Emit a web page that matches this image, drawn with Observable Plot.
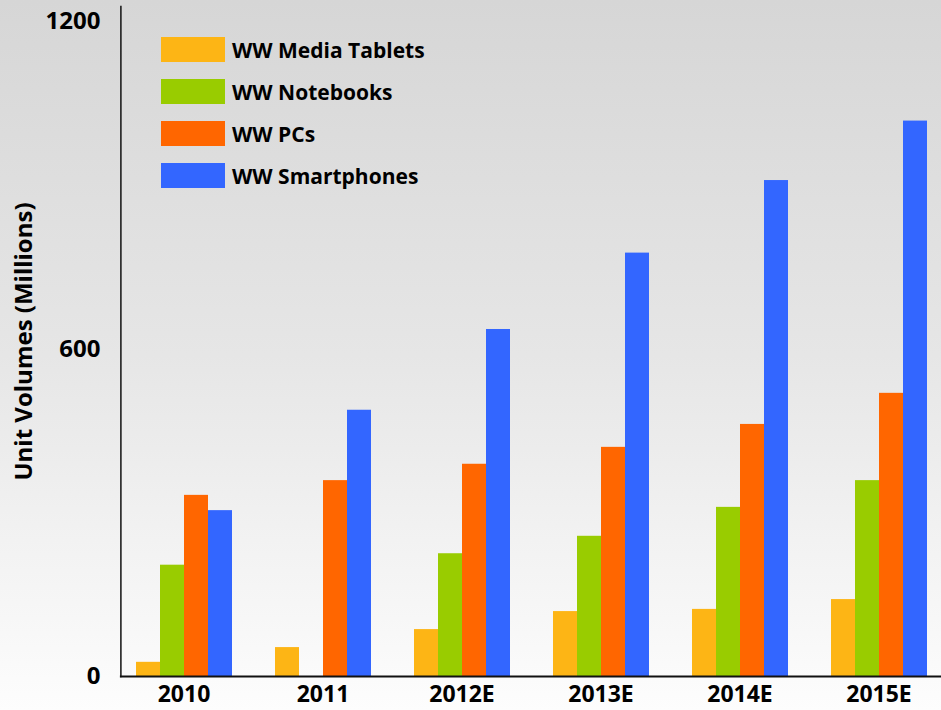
<!DOCTYPE html>
<html>
<head>
<meta charset="utf-8">
<script src="https://cdn.jsdelivr.net/npm/d3@7"></script>
<script src="https://cdn.jsdelivr.net/npm/@observablehq/plot@0.6"></script>
<style>
  html, body { margin: 0; padding: 0; }
  #chart {
    position: relative; width: 941px; height: 710px; overflow: hidden;
    background: linear-gradient(to bottom, #d6d6d6 0%, #e6e6e6 50%, #fdfdfd 100%);
    font-family: "Open Sans", sans-serif; font-weight: bold; color: #000;
  }
  #legend { position: absolute; left: 161px; top: 37px; }
  .item { display: flex; align-items: center; height: 25px; margin-bottom: 17px; font-size: 21px; }
  .sw { width: 64px; height: 25px; margin-right: 7px; }
</style>
</head>
<body>
<div id="chart"><div id="legend"></div></div>
<script>
const years = ["2010", "2011", "2012E", "2013E", "2014E", "2015E"];
const series = ["WW Media Tablets", "WW Notebooks", "WW PCs", "WW Smartphones"];
const colors = ["#FDB515", "#99CC00", "#FF6600", "#3366FF"];
const tablets = [26, 53, 86, 119, 123, 141];
const notebooks = [204, null, 225, 257, 310, 359];
const pcs = [332, 359, 389, 420, 462, 519];
const smartphones = [304, 488, 636, 776, 909, 1018];
const yTicks = [0, 600, 1200];
const yLabel = "Unit Volumes (Millions)";

const values = [tablets, notebooks, pcs, smartphones];
const data = years.flatMap((year, i) =>
  series.map((s, j) => ({year, series: s, value: values[j][i]}))
).filter(d => d.value != null);

const plot = Plot.plot({
  width: 941, height: 710,
  marginTop: 6, marginBottom: 34, marginLeft: 120, marginRight: 0,
  style: {background: "transparent", fontFamily: "Open Sans, sans-serif", fontSize: "24px", fontWeight: "bold", color: "#000", overflow: "visible"},
  fx: {domain: years, paddingInner: 0.29, paddingOuter: 0.098, label: null, axis: null},
  x: {domain: series, padding: 0, axis: null},
  y: {domain: [0, 1228], axis: null},
  color: {domain: series, range: colors},
  marks: [
    Plot.barY(data, {fx: "year", x: "series", y: "value", fill: "series"}),
    Plot.axisFx({anchor: "bottom", tickSize: 0, tickPadding: 9, fontSize: 23, label: null}),
    Plot.axisY({ticks: yTicks, tickFormat: "d", tickSize: 0, tickPadding: 34, fontSize: 24, label: yLabel, labelAnchor: "center", labelArrow: "none", labelOffset: 120}),
    Plot.frame({facet: "super", anchor: "left", stroke: "#111", strokeWidth: 1.5, dx: -13.6}),
    Plot.frame({facet: "super", anchor: "bottom", stroke: "#111", strokeWidth: 2, insetLeft: -13.6, insetRight: -14})
  ]
});
plot.style.position = "absolute";
plot.style.left = "0";
plot.style.top = "0";
const chart = document.getElementById("chart");
chart.insertBefore(plot, chart.firstChild);

const legend = document.getElementById("legend");
series.forEach((s, i) => {
  const item = document.createElement("div");
  item.className = "item";
  const sw = document.createElement("div");
  sw.className = "sw";
  sw.style.background = colors[i];
  const t = document.createElement("span");
  t.textContent = s;
  item.appendChild(sw); item.appendChild(t);
  legend.appendChild(item);
});
</script>
</body>
</html>
